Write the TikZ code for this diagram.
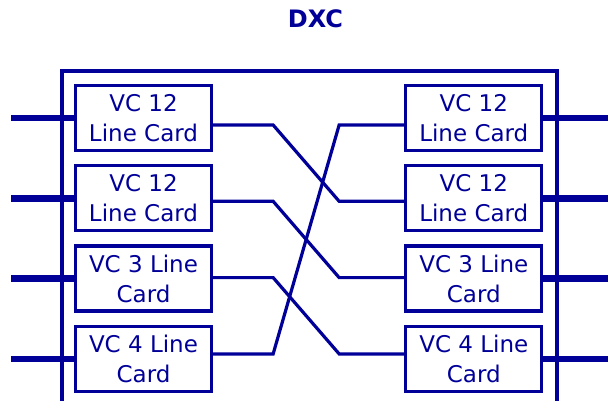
\documentclass[tikz,border=0pt]{standalone}
\usepackage{fontspec}
\setmainfont{DejaVu Sans}
\usetikzlibrary{positioning}
\definecolor{dxcblue}{RGB}{0,0,153}

\begin{document}
\begin{tikzpicture}[
  x=1pt, y=-1pt,
  font=\fontsize{23}{30}\selectfont,
  card/.style={draw=dxcblue, text=dxcblue, line width=3.3pt, minimum width=136pt,
    minimum height=65pt, align=center, inner sep=0pt},
  feed/.style={draw=dxcblue, line width=6.5pt},
  link/.style={draw=dxcblue, line width=3.2pt},
]
\useasboundingbox (0,0) rectangle (608,400);

\node[anchor=base, text=dxcblue, font=\fontsize{24}{28}\selectfont\bfseries] (title) at (315.5,27) {DXC};

% the cross-connect frame, open at the bottom
\draw[link] (62,410) |- (557,71) -- (557,410);

% line cards, left side
\node[card] (lc1) at (143.5,118) {VC 12 \\ Line Card};
\node[card, below=12pt of lc1] (lc2) {VC 12 \\ Line Card};
\node[card, below=12pt of lc2] (lc3) {VC 3 Line \\ Card};
\node[card, below=12pt of lc3] (lc4) {VC 4 Line \\ Card};

% line cards, right side
\node[card, right=191pt of lc1] (rc1) {VC 12 \\ Line Card};
\node[card, below=12pt of rc1] (rc2) {VC 12 \\ Line Card};
\node[card, below=12pt of rc2] (rc3) {VC 3 Line \\ Card};
\node[card, below=12pt of rc3] (rc4) {VC 4 Line \\ Card};

\foreach \i in {1,...,4} {
  \draw[feed] (lc\i.west) -- ++(-63,0);
  \draw[feed] (rc\i.east) -- ++(70,0);
}

% cross connections
\foreach \a/\b in {1/2, 2/3, 3/4, 4/1}
  \draw[link] ([yshift={(4*\a-11)*1pt}]lc\a.east) -- ++(60,0)
    -- ([xshift=-65pt, yshift={(4*\b-11)*1pt}]rc\b.west)
    -- ([yshift={(4*\b-11)*1pt}]rc\b.west);
\end{tikzpicture}
\end{document}
